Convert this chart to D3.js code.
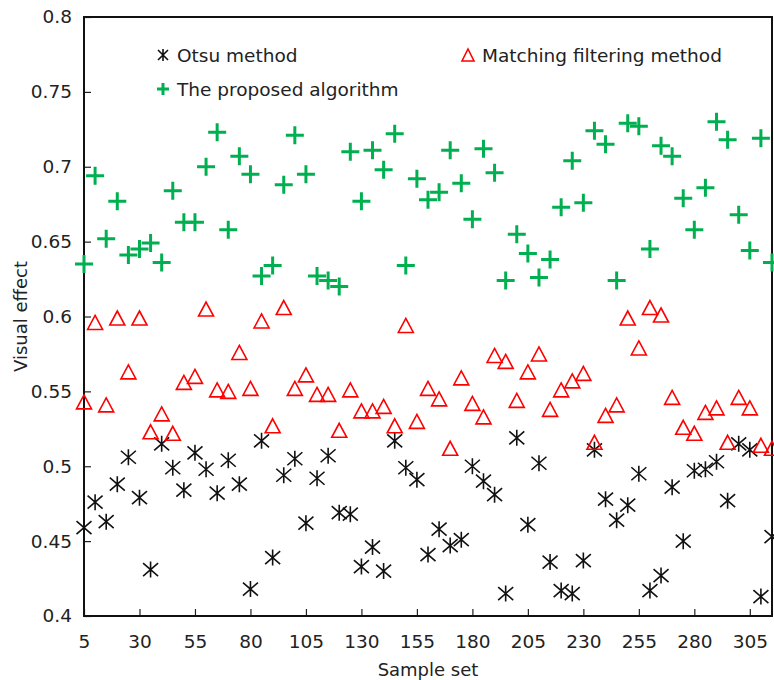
<!DOCTYPE html>
<html>
<head>
<meta charset="utf-8">
<script src="https://cdn.jsdelivr.net/npm/d3@7"></script>
<style>
  body { margin: 0; background: #fff; }
  text { font-family: "DejaVu Sans", Verdana, sans-serif; fill: #222; }
</style>
</head>
<body>
<svg id="chart" width="774" height="680"></svg>
<script>
// Sample indices (x axis)
const samples = [5, 10, 15, 20, 25, 30, 35, 40, 45, 50, 55, 60, 65, 70, 75, 80, 85, 90, 95, 100,
  105, 110, 115, 120, 125, 130, 135, 140, 145, 150, 155, 160, 165, 170, 175, 180, 185, 190, 195, 200,
  205, 210, 215, 220, 225, 230, 235, 240, 245, 250, 255, 260, 265, 270, 275, 280, 285, 290, 295, 300,
  305, 310, 315];

// Otsu method
const otsu = [0.459, 0.476, 0.463, 0.488, 0.506, 0.479, 0.431, 0.515, 0.499, 0.484,
  0.509, 0.498, 0.482, 0.504, 0.488, 0.418, 0.517, 0.439, 0.494, 0.505,
  0.462, 0.492, 0.507, 0.469, 0.468, 0.433, 0.446, 0.430, 0.517, 0.499,
  0.491, 0.441, 0.458, 0.447, 0.451, 0.500, 0.490, 0.481, 0.415, 0.519,
  0.461, 0.502, 0.436, 0.417, 0.415, 0.437, 0.511, 0.478, 0.464, 0.474,
  0.495, 0.417, 0.427, 0.486, 0.450, 0.497, 0.498, 0.503, 0.477, 0.515,
  0.511, 0.413, 0.453];

// Matching filtering method
const matching = [0.543, 0.596, 0.541, 0.599, 0.563, 0.599, 0.523, 0.535, 0.522, 0.556,
  0.560, 0.605, 0.551, 0.550, 0.576, 0.552, 0.597, 0.527, 0.606, 0.552,
  0.561, 0.548, 0.548, 0.524, 0.551, 0.537, 0.537, 0.540, 0.527, 0.594,
  0.530, 0.552, 0.545, 0.512, 0.559, 0.542, 0.533, 0.574, 0.570, 0.544,
  0.563, 0.575, 0.538, 0.551, 0.557, 0.562, 0.516, 0.534, 0.541, 0.599,
  0.579, 0.606, 0.601, 0.546, 0.526, 0.522, 0.536, 0.539, 0.516, 0.546,
  0.539, 0.514, 0.512];

// The proposed algorithm
const proposed = [0.635, 0.694, 0.652, 0.677, 0.641, 0.645, 0.649, 0.636, 0.684, 0.663,
  0.663, 0.700, 0.723, 0.658, 0.707, 0.695, 0.627, 0.634, 0.688, 0.721,
  0.695, 0.627, 0.624, 0.620, 0.710, 0.677, 0.711, 0.698, 0.722, 0.634,
  0.692, 0.678, 0.683, 0.711, 0.689, 0.665, 0.712, 0.696, 0.624, 0.655,
  0.642, 0.626, 0.638, 0.673, 0.704, 0.676, 0.724, 0.715, 0.624, 0.729,
  0.727, 0.645, 0.714, 0.707, 0.679, 0.658, 0.686, 0.730, 0.718, 0.668,
  0.644, 0.719, 0.636];

const xTicks = [5, 30, 55, 80, 105, 130, 155, 180, 205, 230, 255, 280, 305];
const yTicks = [0.4, 0.45, 0.5, 0.55, 0.6, 0.65, 0.7, 0.75, 0.8];
const yTickLabels = ["0.4", "0.45", "0.5", "0.55", "0.6", "0.65", "0.7", "0.75", "0.8"];

const margin = { top: 17, right: 2, bottom: 64, left: 84 };
const width = 774, height = 680;
const innerW = width - margin.left - margin.right;
const innerH = height - margin.top - margin.bottom;

const svg = d3.select('#chart');
const g = svg.append('g').attr('transform', `translate(${margin.left},${margin.top})`);

const x = d3.scaleLinear().domain([5, 315]).range([0, innerW]);
const y = d3.scaleLinear().domain([0.4, 0.8]).range([innerH, 0]);

// axes, ticks pointing inward
const xAxis = g.append('g')
  .attr('transform', `translate(0,${innerH})`)
  .call(d3.axisBottom(x).tickValues(xTicks).tickSizeInner(-7).tickSizeOuter(0).tickPadding(19));
const yAxis = g.append('g')
  .call(d3.axisLeft(y).tickValues(yTicks).tickFormat((d, i) => yTickLabels[i])
    .tickSizeInner(-7).tickSizeOuter(0).tickPadding(12));

[xAxis, yAxis].forEach(a => {
  a.select('.domain').remove();
  a.selectAll('.tick line').attr('stroke', '#222').attr('stroke-width', 1.2);
  a.selectAll('text').attr('font-size', 18.5).attr('fill', '#222');
});

// frame
g.append('rect')
  .attr('width', innerW).attr('height', innerH)
  .attr('fill', 'none').attr('stroke', '#111').attr('stroke-width', 2);

// marker shapes
const asterisk = 'M0,-8L0,8M-7.5,-6.5L7.5,6.5M-7.5,6.5L7.5,-6.5';
const triangle = 'M0,-7L7.5,7L-7.5,7Z';
const plus = 'M-9,0L9,0M0,-9L0,9';

function drawSeries(values, path, color, sw) {
  g.append('g').selectAll('path')
    .data(values)
    .join('path')
    .attr('transform', (d, i) => `translate(${x(samples[i])},${y(d)})`)
    .attr('d', path)
    .attr('fill', 'none')
    .attr('stroke', color)
    .attr('stroke-width', sw);
}

drawSeries(otsu, asterisk, '#111', 1.6);
drawSeries(matching, triangle, '#ff0000', 1.6);
drawSeries(proposed, plus, '#00b050', 3);

// legend
const legend = [
  { label: 'Otsu method', path: 'M0,-6L0,6M-5,-5L5,5M-5,5L5,-5', color: '#111', sw: 1.6, x: 163, y: 55 },
  { label: 'Matching filtering method', path: 'M0,-6L6,6L-6,6Z', color: '#ff0000', sw: 1.6, x: 468, y: 55 },
  { label: 'The proposed algorithm', path: 'M-6,0L6,0M0,-6L0,6', color: '#00b050', sw: 3, x: 163, y: 89 }
];
const lg = svg.append('g');
legend.forEach(l => {
  lg.append('path')
    .attr('transform', `translate(${l.x},${l.y})`)
    .attr('d', l.path).attr('fill', 'none')
    .attr('stroke', l.color).attr('stroke-width', l.sw);
  lg.append('text')
    .attr('x', l.x + 14).attr('y', l.y + 6.5)
    .attr('font-size', 18.5)
    .text(l.label);
});

// axis titles
svg.append('text')
  .attr('x', margin.left + innerW / 2).attr('y', 676)
  .attr('text-anchor', 'middle').attr('font-size', 18)
  .text('Sample set');
svg.append('text')
  .attr('transform', `translate(27,${margin.top + innerH / 2}) rotate(-90)`)
  .attr('text-anchor', 'middle').attr('font-size', 18)
  .text('Visual effect');
</script>
</body>
</html>
